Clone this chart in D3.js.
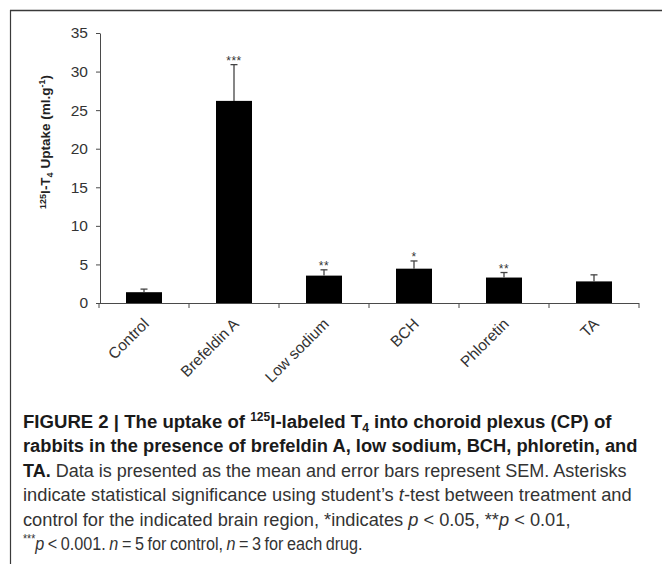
<!DOCTYPE html>
<html><head><meta charset="utf-8">
<script src="https://cdn.jsdelivr.net/npm/d3@7"></script>
<style>
body{margin:0;background:#fff;}
svg{display:block;}
</style></head>
<body>
<svg id="chart" width="662" height="564"></svg>
<script>
const categories = ["Control","Brefeldin A","Low sodium","BCH","Phloretin","TA"];
const means = [1.4, 26.2, 3.55, 4.45, 3.3, 2.8];
const sems = [0.4, 4.7, 0.75, 1.0, 0.65, 0.85];
const stars = ["", "***", "**", "*", "**", ""];
const yTicks = [0,5,10,15,20,25,30,35];

const svg = d3.select("#chart");
const axisColor = "#4a4a4a";
const font = "'Liberation Sans', Arial, sans-serif";

// frame
svg.append("line").attr("x1",10).attr("x2",662).attr("y1",10.5).attr("y2",10.5).attr("stroke","#3a3a3a").attr("stroke-width",1.5);
svg.append("line").attr("x1",10.5).attr("x2",10.5).attr("y1",10).attr("y2",564).attr("stroke","#3a3a3a").attr("stroke-width",1.2);

const x = d3.scaleBand().domain(categories).range([99,639]).paddingInner(0.6).paddingOuter(0.3);
const y = d3.scaleLinear().domain([0,35]).range([303,33]);

// y axis
const yAxis = svg.append("g").attr("transform","translate(100,0)")
  .call(d3.axisLeft(y).tickValues(yTicks).tickSize(4).tickPadding(8).tickSizeOuter(0));
yAxis.select(".domain").attr("stroke",axisColor);
yAxis.selectAll(".tick line").attr("stroke",axisColor);
yAxis.selectAll(".tick text").attr("font-family",font).attr("font-size",15.5).attr("fill","#333");

// bars
svg.append("g").selectAll("rect").data(categories).join("rect")
  .attr("x",d=>x(d)).attr("width",x.bandwidth())
  .attr("y",(d,i)=>y(means[i])).attr("height",(d,i)=>y(0)-y(means[i]))
  .attr("fill","#000");

// error bars
const eb = svg.append("g").attr("stroke","#444").attr("stroke-width",1.3);
categories.forEach((c,i)=>{
  const cx = x(c)+x.bandwidth()/2;
  eb.append("line").attr("x1",cx).attr("x2",cx).attr("y1",y(means[i])).attr("y2",y(means[i]+sems[i]));
  eb.append("line").attr("x1",cx-3.5).attr("x2",cx+3.5).attr("y1",y(means[i]+sems[i])).attr("y2",y(means[i]+sems[i]));
});

// significance stars
svg.append("g").selectAll("text").data(categories).join("text")
  .attr("x",d=>x(d)+x.bandwidth()/2)
  .attr("y",(d,i)=>y(means[i]+sems[i])+0)
  .attr("text-anchor","middle").attr("font-family",font).attr("font-size",12).attr("letter-spacing",0.5).attr("fill","#333")
  .text((d,i)=>stars[i]);

// x axis line + boundary ticks
const xa = svg.append("g").attr("stroke",axisColor);
const step = x.step();
const x0 = x.range()[0];
xa.append("line").attr("x1",x0).attr("x2",x.range()[1]).attr("y1",y(0)+0.5).attr("y2",y(0)+0.5);
for(let i=0;i<=categories.length;i++){
  const tx = x0 + step*i;
  xa.append("line").attr("x1",tx).attr("x2",tx).attr("y1",y(0)).attr("y2",y(0)+5);
}
// x labels
svg.append("g").selectAll("text").data(categories).join("text")
  .attr("transform",d=>`translate(${x(d)+x.bandwidth()/2+3},${y(0)+19}) rotate(-45)`)
  .attr("text-anchor","end").attr("dominant-baseline","middle")
  .attr("font-family",font).attr("font-size",15.5).attr("fill","#333")
  .text(d=>d);

// y label
const yl = svg.append("text").attr("transform","translate(50,142) rotate(-90)")
  .attr("text-anchor","middle").attr("font-family",font).attr("font-weight","bold")
  .attr("font-size",13.5).attr("fill","#222");
yl.append("tspan").attr("font-size",9).attr("dy",-4).text("125");
yl.append("tspan").attr("dy",4).text("I-T");
yl.append("tspan").attr("font-size",9).attr("dy",3).text("4");
yl.append("tspan").attr("dy",-3).text(" Uptake (ml.g");
yl.append("tspan").attr("font-size",9).attr("dy",-5).text("-1");
yl.append("tspan").attr("dy",5).text(")");

// caption
const lines = [
  [{t:"FIGURE 2 | The uptake of ",b:1},{t:"125",b:1,sup:1},{t:"I-labeled T",b:1},{t:"4",b:1,sub:1},{t:" into choroid plexus (CP) of",b:1}],
  [{t:"rabbits in the presence of brefeldin A, low sodium, BCH, phloretin, and",b:1}],
  [{t:"TA.",b:1},{t:" Data is presented as the mean and error bars represent SEM. Asterisks"}],
  [{t:"indicate statistical significance using student\u2019s "},{t:"t",i:1},{t:"-test between treatment and"}],
  [{t:"control for the indicated brain region, *indicates "},{t:"p",i:1},{t:" < 0.05, **"},{t:"p",i:1},{t:" < 0.01,"}],
  [{t:"***",sup:1},{t:"p",i:1},{t:" < 0.001. "},{t:"n",i:1},{t:" = 5 for control, "},{t:"n",i:1},{t:" = 3 for each drug."}]
];
const lineTargets = [612, 638, 627, 632, 571, 363];
const wordSpacing = [0, 0, 0, 0, 0, -1.1];
lines.forEach((segs,li)=>{
  const g = svg.append("g");
  const tx = g.append("text").attr("x",0).attr("y",0)
    .attr("font-family",font).attr("font-size",18.5).attr("fill","#333")
    .attr("word-spacing",wordSpacing[li]);
  segs.forEach(s=>{
    const sp = tx.append("tspan").text(s.t);
    if(s.b) sp.attr("font-weight","bold").attr("fill","#1a1a1a");
    if(s.i) sp.attr("font-style","italic");
    if(s.sup) sp.attr("font-size",12).attr("dy",-7);
    if(s.sub) sp.attr("font-size",12).attr("dy",4);
    if(s.sup || s.sub) sp.attr("data-shift",1);
  });
  tx.selectAll("tspan").each(function(d,k,nodes){
    const prev = k>0 ? nodes[k-1] : null;
    if(prev && prev.getAttribute("data-shift") && !this.getAttribute("data-shift")){
      d3.select(this).attr("dy", -parseFloat(prev.getAttribute("dy")));
    }
  });
  const w = tx.node().getComputedTextLength();
  const sx = Math.min(1.05, (lineTargets[li]-23)/w);
  g.attr("transform",`translate(23,${428+li*24.4}) scale(${sx},1)`);
});
</script>
</body></html>
